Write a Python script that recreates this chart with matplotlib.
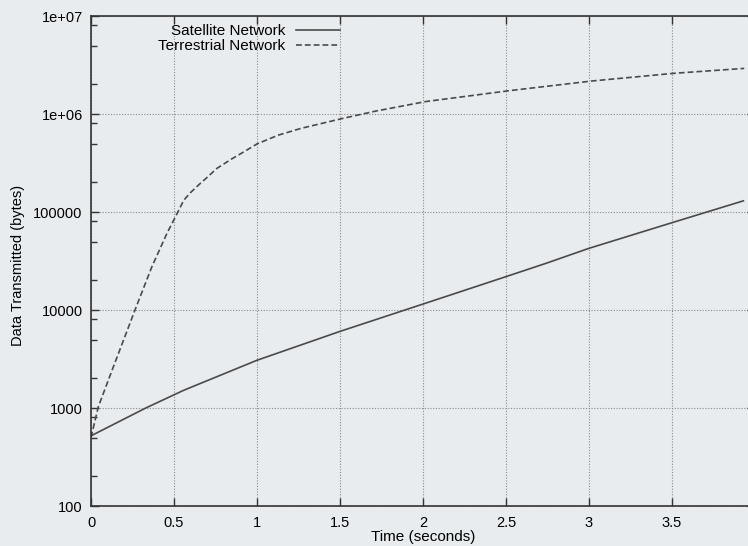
import matplotlib.pyplot as plt
from matplotlib.ticker import FixedLocator, FixedFormatter, LogLocator, NullFormatter

plt.rcParams['font.family'] = ['Liberation Sans', 'DejaVu Sans']

# datos
sat_t = [0, 0.33, 0.56, 1.0, 1.5, 2.0, 2.5, 2.74, 3.0, 3.5, 3.93]
sat_bytes = [520, 1000, 1520, 3070, 6050, 11500, 21900, 29900, 42600, 77800, 130000]

ter_t = [0, 0.044, 0.135, 0.267, 0.367, 0.458, 0.509, 0.559, 0.6, 0.65, 0.7, 0.76,
         0.85, 0.92, 1.0, 1.13, 1.266, 1.518, 1.714, 2.017, 2.52, 3.016, 3.51, 3.935]
ter_bytes = [500, 1030, 2640, 10200, 27700, 60800, 89600, 132000, 158000, 190000, 226000, 280000,
             350000, 410000, 495000, 610000, 714000, 903000, 1070000, 1340000, 1730000, 2170000,
             2600000, 2920000]

xticks = [0, 0.5, 1, 1.5, 2, 2.5, 3, 3.5]
xlabels = ['0', '0.5', '1', '1.5', '2', '2.5', '3', '3.5']
yticks = [100, 1000, 10000, 100000, 1e6, 1e7]
ylabels = ['100', '1000', '10000', '100000', '1e+06', '1e+07']

FONDO = '#e8ecef'
GRIS = '#4a4a4a'

fig = plt.figure(figsize=(7.48, 5.46), dpi=100, facecolor=FONDO)
ax = fig.add_axes([91/748, 40/546, 664/748, 490/546])
ax.set_facecolor(FONDO)

ax.plot(sat_t, sat_bytes, color=GRIS, lw=1.2, label='Satellite Network')
ax.plot(ter_t, ter_bytes, color=GRIS, lw=1.2, dashes=(3.5, 1.8), label='Terrestrial Network')

ax.set_yscale('log')
ax.set_xlim(0, 4)
ax.set_ylim(100, 1e7)

ax.xaxis.set_major_locator(FixedLocator(xticks))
ax.xaxis.set_major_formatter(FixedFormatter(xlabels))
ax.yaxis.set_major_locator(FixedLocator(yticks))
ax.yaxis.set_major_formatter(FixedFormatter(ylabels))
ax.yaxis.set_minor_locator(LogLocator(base=10, subs=[2, 5, 8]))
ax.yaxis.set_minor_formatter(NullFormatter())

ax.tick_params(which='both', direction='in', top=True, right=True, color='#333333', labelsize=10.5)
ax.tick_params(which='major', length=6, width=1)
ax.tick_params(which='minor', length=4, width=1)
ax.tick_params(axis='x', pad=7)
ax.tick_params(axis='y', pad=6)

ax.grid(True, which='major', linestyle=(0, (1, 1.5)), color='#8a8a8a', lw=0.8)

for s in ax.spines.values():
    s.set_color('#333333')
    s.set_linewidth(1.2)

ax.set_xlabel('Time (seconds)', fontsize=11, labelpad=0)
ax.set_ylabel('Data Transmitted (bytes)', fontsize=10.5)
ax.yaxis.set_label_coords(-0.1, 0.49)

ax.legend(loc='upper right', bbox_to_anchor=(340/748, 1 - 24/546), bbox_transform=fig.transFigure,
          frameon=False, markerfirst=False, fontsize=11, handlelength=2.9, handletextpad=0.7,
          labelspacing=0.08, borderpad=0, borderaxespad=0)

fig.savefig('out.png', dpi=100, facecolor=FONDO)
